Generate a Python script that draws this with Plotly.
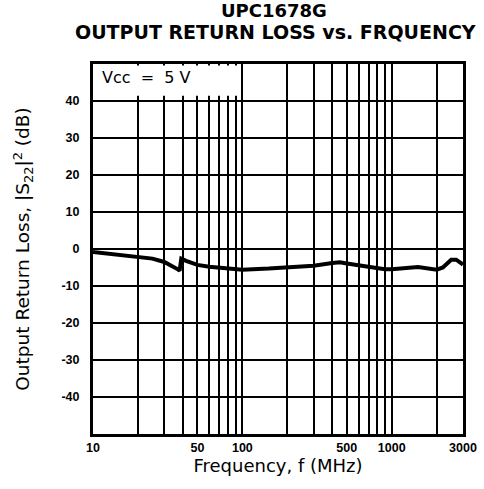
import plotly.graph_objects as go

# Data
freq_mhz = [10, 15, 20, 25, 30, 35, 37, 38, 39, 42, 50, 60, 80, 100, 150, 200, 300, 400, 450, 500, 600, 700, 800, 900, 1000, 1500, 2000, 2200, 2500, 2700, 3000]
s22_db = [-0.8, -1.5, -2.0, -2.6, -3.5, -4.8, -5.5, -5.9, -2.6, -3.2, -4.3, -4.8, -5.3, -5.6, -5.3, -5.0, -4.5, -3.8, -3.6, -3.9, -4.4, -4.9, -5.3, -5.5, -5.5, -4.9, -5.6, -5.0, -2.9, -2.9, -4.2]

x_grid = [10, 20, 30, 40, 50, 60, 70, 80, 90, 100, 200, 300, 400, 500, 600, 700, 800, 900, 1000, 2000, 3000]
x_labels = {10: "10", 50: "50", 100: "100", 500: "500", 1000: "1000", 3000: "3000"}
y_ticks = [-40, -30, -20, -10, 0, 10, 20, 30, 40]

TITLE_FONT = "DejaVu Sans, Verdana, sans-serif"
TICK_FONT = "Liberation Sans, Arial, sans-serif"

fig = go.Figure()
fig.add_trace(go.Scatter(x=freq_mhz, y=s22_db, mode="lines",
                         line=dict(color="black", width=4), showlegend=False))

fig.add_shape(type="rect", xref="x domain", yref="y", x0=0.005, x1=0.400, y0=41.4, y1=49.6,
              fillcolor="white", line=dict(width=0), layer="above")
fig.add_annotation(text="Vcc  =  5 V", xref="x domain", yref="y", x=0.018, y=46.4,
                   xanchor="left", yanchor="middle", showarrow=False,
                   font=dict(family=TITLE_FONT, size=16, color="black"))

fig.add_annotation(text="<b>UPC1678G</b>", xref="paper", yref="paper",
                   x=(274 - 93) / 370, y=1 + (64 - 11) / 370, xanchor="center", yanchor="middle",
                   showarrow=False, borderpad=0, font=dict(family=TITLE_FONT, size=18, color="black"))
fig.add_annotation(text="<b>OUTPUT RETURN LOSS vs. FRQUENCY</b>", xref="paper", yref="paper",
                   x=(275 - 93) / 370, y=1 + (64 - 32) / 370, xanchor="center", yanchor="middle",
                   showarrow=False, borderpad=0, font=dict(family=TITLE_FONT, size=19, color="black"))

fig.update_layout(
    width=484, height=489,
    margin=dict(l=93, r=21, t=64, b=55),
    paper_bgcolor="white", plot_bgcolor="white",
    font=dict(family=TICK_FONT, color="black"),
)
fig.update_xaxes(type="log", range=[1, 3.47712], tickvals=x_grid,
                 ticktext=[("<b>%s</b>" % x_labels[v]) if v in x_labels else "" for v in x_grid],
                 showgrid=True, gridcolor="black", gridwidth=1.6,
                 showline=True, linecolor="black", linewidth=3, mirror=True,
                 ticks="", tickfont=dict(family=TICK_FONT, size=12.5, color="black"),
                 title=dict(text="Frequency, f (MHz)", font=dict(family=TITLE_FONT, size=18), standoff=5),
                 zeroline=False, automargin=False)
fig.update_yaxes(range=[-50, 50], tickvals=y_ticks,
                 ticktext=["<b>%d</b>" % v for v in y_ticks],
                 showgrid=True, gridcolor="black", gridwidth=1.6,
                 showline=True, linecolor="black", linewidth=3, mirror=True,
                 ticks="", ticklabelstandoff=8, tickfont=dict(family=TICK_FONT, size=12.5, color="black"),
                 title=dict(text="Output Return Loss, |S<sub>22</sub>|<sup>2</sup> (dB)",
                            font=dict(family=TITLE_FONT, size=18.5), standoff=27),
                 zeroline=False, automargin=False)

fig.write_html("out.html", config={"displayModeBar": False},
               post_script="document.body.style.margin='0';")
